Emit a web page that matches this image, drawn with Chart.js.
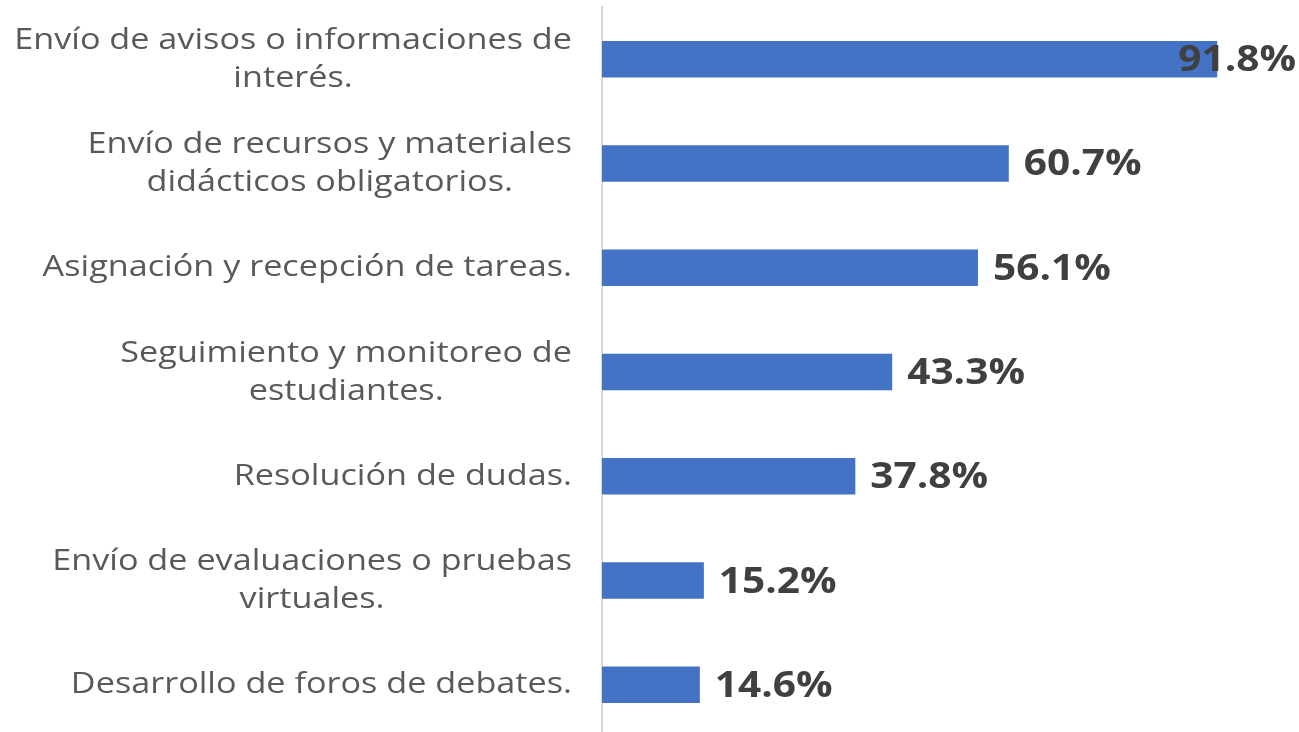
<!DOCTYPE html>
<html>
<head>
<meta charset="utf-8">
<script src="https://cdn.jsdelivr.net/npm/chart.js@4/dist/chart.umd.min.js"></script>
<style>
  html, body { margin: 0; padding: 0; background: #fff; overflow: hidden; }
  #wrap { position: relative; width: 1299px; height: 732px; overflow: hidden; }
  #wrap canvas { position: absolute; left: 0; top: 0; }
</style>
</head>
<body>
<div id="wrap"><canvas id="chart" width="1299" height="740"></canvas></div>
<script>
// datos
var categorias = [
    ["Envío de avisos o informaciones de", "interés."],
    ["Envío de recursos y materiales", "didácticos obligatorios."],
    ["Asignación y recepción de tareas."],
    ["Seguimiento y monitoreo de", "estudiantes."],
    ["Resolución de dudas."],
    ["Envío de evaluaciones o pruebas", "virtuales."],
    ["Desarrollo de foros de debates."]
];
var porcentajes = [91.8, 60.7, 56.1, 43.3, 37.8, 15.2, 14.6];

var fuente = "'Open Sans', 'DejaVu Sans', sans-serif";

// texto ensanchado (la fuente original es mas ancha)
function textoAncho(ctx, txt, x, y, sx) {
    ctx.save();
    ctx.translate(x, y);
    ctx.scale(sx, 1);
    ctx.fillText(txt, 0, 0);
    ctx.restore();
}

// etiquetas de categoria, cada bloque centrado y alineado a la derecha
var etiquetasPlugin = {
    id: 'etiquetas',
    afterDraw: function (chart) {
        var ctx = chart.ctx;
        var y = chart.scales.y;
        var sx = 1.14;
        ctx.save();
        ctx.font = "30px " + fuente;
        ctx.fillStyle = "#595959";
        ctx.textBaseline = "middle";
        ctx.textAlign = "center";
        var derecha = 572;
        var alto = 38;
        categorias.forEach(function (lineas, i) {
            var ancho = 0;
            lineas.forEach(function (l) { ancho = Math.max(ancho, ctx.measureText(l).width * sx); });
            var cx = derecha - ancho / 2;
            var cy = y.getPixelForValue(i);
            var y0 = cy - (lineas.length - 1) * alto / 2;
            lineas.forEach(function (l, k) {
                textoAncho(ctx, l, cx, y0 + k * alto, sx);
            });
        });
        ctx.restore();
    }
};

// valores al final de cada barra
var valoresPlugin = {
    id: 'valores',
    afterDatasetsDraw: function (chart) {
        var ctx = chart.ctx;
        var meta = chart.getDatasetMeta(0);
        var sx = 1.16;
        ctx.save();
        ctx.font = "bold 35px " + fuente;
        ctx.fillStyle = "#404040";
        ctx.textBaseline = "middle";
        ctx.textAlign = "left";
        meta.data.forEach(function (bar, i) {
            var txt = porcentajes[i].toFixed(1) + "%";
            var w = ctx.measureText(txt).width * sx;
            var x = Math.min(bar.x + 15, 1296 - w);
            textoAncho(ctx, txt, x, bar.y + 2, sx);
        });
        ctx.restore();
    }
};

var ctx = document.getElementById("chart").getContext("2d");
var grafico = new Chart(ctx, {
    type: 'bar',
    data: {
        labels: categorias,
        datasets: [{
            data: porcentajes,
            backgroundColor: "#4472C4",
            barPercentage: 0.35,
            categoryPercentage: 1.0
        }]
    },
    options: {
        indexAxis: 'y',
        responsive: false,
        animation: false,
        layout: { padding: { top: 7, bottom: 3, left: 0, right: 0 } },
        plugins: {
            legend: { display: false },
            tooltip: { enabled: false }
        },
        scales: {
            x: {
                display: false,
                min: 0,
                max: 104
            },
            y: {
                ticks: { display: false },
                grid: { display: false, drawTicks: false },
                border: { display: true, color: "#d9d9d9", width: 2 },
                afterFit: function (scale) { scale.width = 602; }
            }
        }
    },
    plugins: [etiquetasPlugin, valoresPlugin]
});
</script>
</body>
</html>
